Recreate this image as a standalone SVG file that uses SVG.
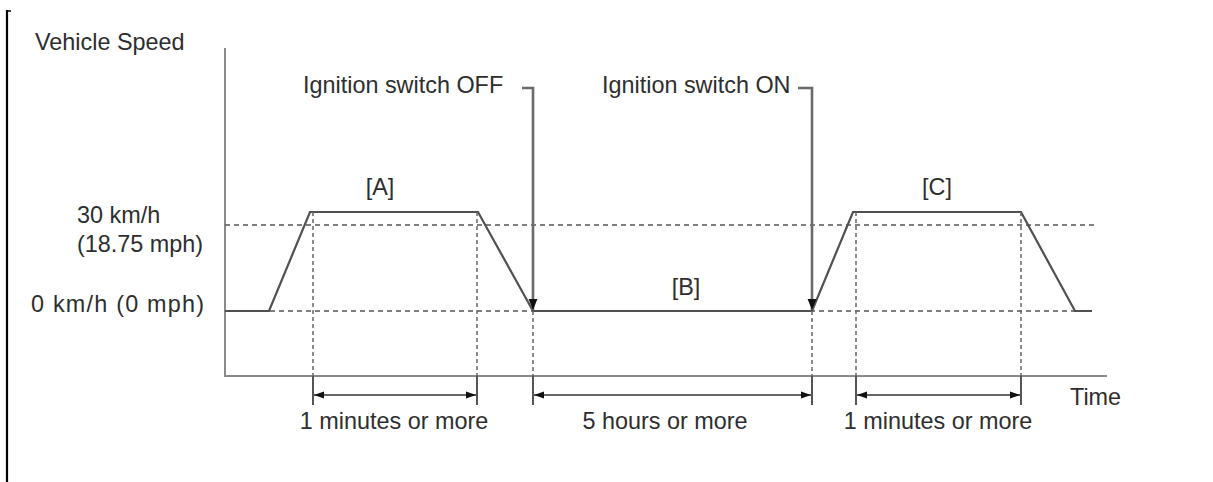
<svg xmlns="http://www.w3.org/2000/svg" width="1213" height="482" viewBox="0 0 1213 482">
<style>
text{font-family:"Liberation Sans",Arial,sans-serif;font-size:23.4px;fill:#2e2e2e}
.axis{stroke:#8a8a8a;stroke-width:2;fill:none}
.curve{stroke:#505050;stroke-width:2.2;fill:none;stroke-linejoin:miter}
.dash{stroke:#555;stroke-width:1.5;stroke-dasharray:5,4;fill:none}
.vdash{stroke:#666;stroke-width:1.5;stroke-dasharray:4,3;fill:none}
.tick{stroke:#555;stroke-width:2;fill:none}
.dim{stroke:#333;stroke-width:1.5;fill:none}
.ign{stroke:#6a6a6a;stroke-width:2.6;fill:none}
</style>
<defs>
<marker id="ah" viewBox="0 0 10 10" refX="10" refY="5" markerWidth="10" markerHeight="10" markerUnits="userSpaceOnUse" orient="auto-start-reverse">
<path d="M0,1.5 L10,5 L0,8.5 Z" fill="#111"/>
</marker>
<marker id="ad" viewBox="0 0 10 10" refX="10" refY="5" markerWidth="11" markerHeight="11" markerUnits="userSpaceOnUse" orient="auto">
<path d="M0,1 L10,5 L0,9 Z" fill="#111"/>
</marker>
</defs>
<rect width="1213" height="482" fill="#fff"/>
<g id="border">
<path d="M7,10 L7,482" stroke="#000" stroke-width="2.2" fill="none"/>
<path d="M7,11 L11,11" stroke="#000" stroke-width="1.5" fill="none"/>
</g>
<g id="axes">
<path class="axis" d="M225,48 L225,376 L1107,376"/>
<text x="35" y="50">Vehicle Speed</text>
<text x="1070" y="405">Time</text>
<text x="77" y="223">30 km/h</text>
<text x="77" y="252">(18.75 mph)</text>
<text x="31" y="312" textLength="173" lengthAdjust="spacing">0 km/h (0 mph)</text>
</g>
<g id="reference-lines">
<path class="dash" d="M225,225 L1098,225"/>
<path class="dash" d="M225,311 L1092,311"/>
</g>
<g id="speed-curve">
<path class="curve" d="M225,311 L269,311 L310,212 L478,212 L533,311 L812,311 L853,212 L1021,212 L1075,311 L1092,311"/>
</g>
<g id="phase-A"><text x="380" y="195" text-anchor="middle">[A]</text></g>
<g id="phase-B"><text x="686" y="295" text-anchor="middle">[B]</text></g>
<g id="phase-C"><text x="937" y="195" text-anchor="middle">[C]</text></g>
<g id="ignition-off">
<text x="303" y="93">Ignition switch OFF</text>
</g>
<g id="ignition-on">
<text x="602" y="93">Ignition switch ON</text>
</g>
<g id="connectors">
<path class="ign" d="M522,88 L533,88 L533,310" marker-end="url(#ad)"/>
<path class="ign" d="M798,88 L812,88 L812,310" marker-end="url(#ad)"/>
<path class="vdash" d="M313,212 L313,376"/>
<path class="vdash" d="M477,212 L477,376"/>
<path class="vdash" d="M533,311 L533,376"/>
<path class="vdash" d="M812,311 L812,376"/>
<path class="vdash" d="M856,212 L856,376"/>
<path class="vdash" d="M1021,212 L1021,376"/>
<path class="tick" d="M313,376 L313,405 M477,376 L477,405 M533,376 L533,405 M812,376 L812,405 M856,376 L856,405 M1021,376 L1021,405"/>
<path class="dim" d="M314,395 L476,395" marker-start="url(#ah)" marker-end="url(#ah)"/>
<path class="dim" d="M534,395 L811,395" marker-start="url(#ah)" marker-end="url(#ah)"/>
<path class="dim" d="M857,395 L1020,395" marker-start="url(#ah)" marker-end="url(#ah)"/>
</g>
<g id="durations">
<text x="394" y="429" text-anchor="middle">1 minutes or more</text>
<text x="665" y="429" text-anchor="middle">5 hours or more</text>
<text x="938" y="429" text-anchor="middle">1 minutes or more</text>
</g>
</svg>
